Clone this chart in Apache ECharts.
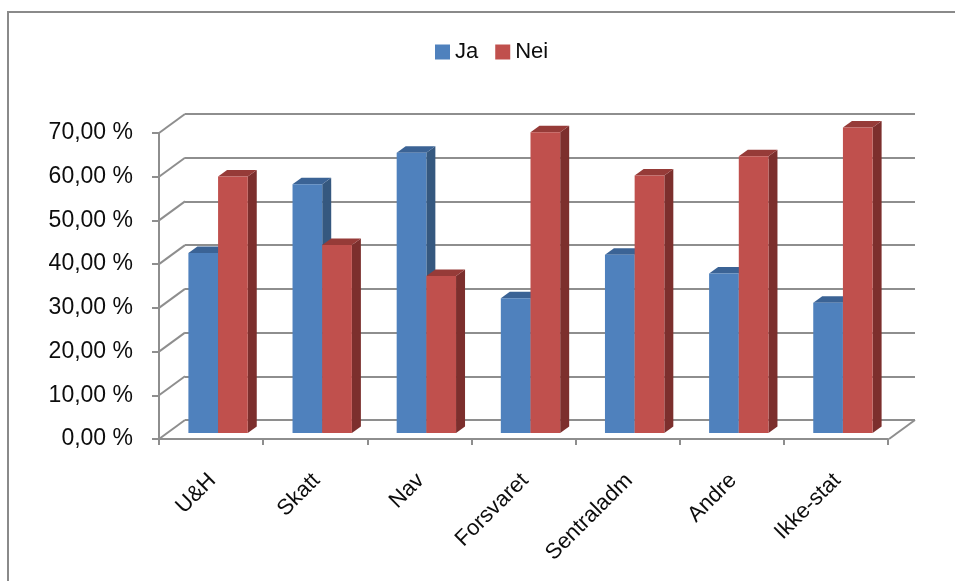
<!DOCTYPE html>
<html>
<head>
<meta charset="utf-8">
<script src="https://cdn.jsdelivr.net/npm/echarts@6/dist/echarts.min.js"></script>
<style>html,body{margin:0;padding:0;background:#fff}#c{width:955px;height:581px}</style>
</head>
<body>
<div id="c"></div>
<script>
const categories = ['U&H', 'Skatt', 'Nav', 'Forsvaret', 'Sentraladm', 'Andre', 'Ikke-stat'];
const seriesNames = ['Ja', 'Nei'];
const ja = [41.2, 56.9, 64.1, 30.8, 40.8, 36.5, 29.8];
const nei = [58.7, 43.0, 35.9, 68.8, 58.9, 63.3, 69.9];
const yTicks = [0, 10, 20, 30, 40, 50, 60, 70];

const FONT = 'Liberation Sans';
const TEXT_COLOR = '#0d0d0d';
const GRID_COLOR = '#8e8e8e';
const DEPTH_X = 26, DEPTH_Y = -19;   // floor depth (front -> back wall)
const SHIFT_X = 7, SHIFT_Y = -6;     // bars' front plane offset
const BAR_DX = 9, BAR_DY = -6.5;     // bar depth
const COLORS = [
  {front: '#4F81BD', side: '#35587F', top: '#3B6395'},
  {front: '#C0504D', side: '#7C2F2D', top: '#963B38'}
];

function barRenderer(k) {
  const c = COLORS[k];
  return function (params, api) {
    const i = api.value(0), v = api.value(1);
    const top = api.coord([i, v]);
    const base = api.coord([i, 0]);
    const band = api.size([1, 0])[0];
    const w = band * 0.285;
    const x0 = base[0] + SHIFT_X + (k === 0 ? -w : 0);
    const x1 = x0 + w;
    const yb = base[1] + SHIFT_Y;
    const yt = top[1] + SHIFT_Y;
    return {
      type: 'group',
      children: [
        {type: 'polygon', shape: {points: [[x1, yt], [x1 + BAR_DX, yt + BAR_DY], [x1 + BAR_DX, yb + BAR_DY], [x1, yb]]}, style: {fill: c.side}},
        {type: 'polygon', shape: {points: [[x0, yt], [x0 + BAR_DX, yt + BAR_DY], [x1 + BAR_DX, yt + BAR_DY], [x1, yt]]}, style: {fill: c.top}},
        {type: 'rect', shape: {x: x0, y: yt, width: w, height: yb - yt}, style: {fill: c.front}}
      ]
    };
  };
}

const chart = echarts.init(document.getElementById('c'), null, {renderer: 'canvas'});
chart.setOption({
  animation: false,
  textStyle: {fontFamily: FONT},
  graphic: [{
    type: 'rect', z: 0, silent: true,
    shape: {x: 8, y: 12, width: 1000, height: 1000},
    style: {fill: null, stroke: '#8a8a8a', lineWidth: 2}
  }],
  legend: {
    data: seriesNames,
    left: 435, top: 40, padding: 0,
    itemWidth: 15, itemHeight: 15, itemGap: 17,
    icon: 'rect',
    textStyle: {fontSize: 22, color: TEXT_COLOR, fontFamily: FONT, lineHeight: 24}
  },
  grid: [
    {left: 159, right: 955 - 888, top: 133, bottom: 581 - 439, containLabel: false},
    {left: 185, right: 955 - 915, top: 114, bottom: 581 - 420, containLabel: false}
  ],
  xAxis: [
    {
      type: 'category', gridIndex: 0, data: categories, boundaryGap: true,
      axisLine: {show: true, lineStyle: {color: GRID_COLOR, width: 2}},
      axisTick: {show: true, alignWithLabel: false, length: 6, lineStyle: {color: GRID_COLOR, width: 2}},
      axisLabel: {rotate: 45, margin: 24, fontSize: 22, color: TEXT_COLOR, fontFamily: FONT, interval: 0,
        verticalAlign: 'top', padding: [0, 9, 0, 0]},
      splitLine: {show: false}
    },
    {type: 'value', gridIndex: 1, min: 0, max: 7, show: false}
  ],
  yAxis: [
    {
      type: 'value', gridIndex: 0, min: 0, max: 70, interval: 10,
      axisLine: {show: true, lineStyle: {color: GRID_COLOR, width: 2}},
      axisTick: {show: true, length: 7, lineStyle: {color: GRID_COLOR, width: 2}},
      axisLabel: {margin: 26, fontSize: 23, color: TEXT_COLOR, fontFamily: FONT,
        formatter: v => v.toFixed(2).replace('.', ',') + ' %'},
      splitLine: {show: false}
    },
    {
      type: 'value', gridIndex: 1, min: 0, max: 70, interval: 10,
      axisLine: {show: false}, axisTick: {show: false}, axisLabel: {show: false},
      splitLine: {show: true, lineStyle: {color: GRID_COLOR, width: 2}}
    }
  ],
  series: [
    {
      type: 'custom', name: 'leftWall', xAxisIndex: 1, yAxisIndex: 1, z: 1, silent: true,
      data: yTicks.map(v => [0, v]),
      renderItem: function (params, api) {
        const p = api.coord([api.value(0), api.value(1)]);
        return {type: 'line', shape: {x1: p[0] - DEPTH_X, y1: p[1] - DEPTH_Y, x2: p[0], y2: p[1]},
          style: {stroke: GRID_COLOR, lineWidth: 2}};
      }
    },
    {
      type: 'custom', name: 'floorEdge', xAxisIndex: 1, yAxisIndex: 1, z: 1, silent: true,
      data: [[7, 0]],
      renderItem: function (params, api) {
        const p = api.coord([api.value(0), api.value(1)]);
        return {type: 'line', shape: {x1: p[0] - DEPTH_X, y1: p[1] - DEPTH_Y, x2: p[0], y2: p[1]},
          style: {stroke: GRID_COLOR, lineWidth: 2}};
      }
    },
    {
      type: 'custom', name: 'Ja', xAxisIndex: 0, yAxisIndex: 0, z: 3,
      itemStyle: {color: COLORS[0].front},
      encode: {x: 0, y: 1},
      data: ja.map((v, i) => [i, v]),
      renderItem: barRenderer(0)
    },
    {
      type: 'custom', name: 'Nei', xAxisIndex: 0, yAxisIndex: 0, z: 3,
      itemStyle: {color: COLORS[1].front},
      encode: {x: 0, y: 1},
      data: nei.map((v, i) => [i, v]),
      renderItem: barRenderer(1)
    }
  ]
});
</script>
</body>
</html>
